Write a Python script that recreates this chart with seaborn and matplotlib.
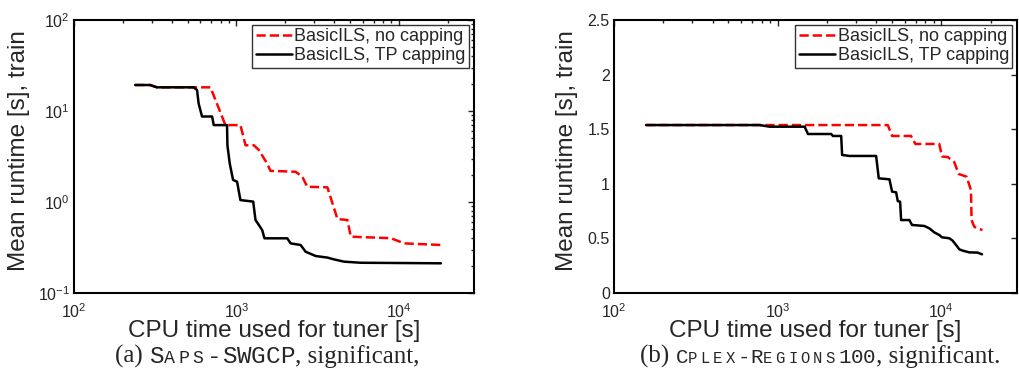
import matplotlib
matplotlib.use("Agg")
import matplotlib.pyplot as plt
import seaborn as sns
from matplotlib.ticker import LogLocator, NullFormatter, FixedLocator

# values (x = CPU time [s], y = mean runtime [s])
saps_tp_time = [238, 294, 324, 546, 572, 585, 614, 708, 725, 875, 880, 909, 953,
                1009, 1058, 1268, 1310, 1374, 1440, 1488, 2055, 2155, 2483, 2666,
                3073, 3630, 3990, 4595, 5820, 18150]
saps_tp_rt = [19.3, 19.3, 18.2, 18.2, 17.0, 12.1, 8.7, 8.7, 7.0, 7.0, 4.2, 2.66,
              1.75, 1.67, 1.05, 1.01, 0.634, 0.559, 0.492, 0.399, 0.399, 0.351,
              0.337, 0.284, 0.255, 0.245, 0.234, 0.221, 0.215, 0.212]

saps_nocap_time = [238, 294, 324, 546, 692, 855, 1058, 1138, 1280, 1375, 1549, 1620,
                   2314, 2541, 2729, 3630, 4187, 4820, 5060, 8930, 10800, 18150]
saps_nocap_rt = [19.3, 19.3, 18.2, 18.2, 18.2, 7.0, 7.0, 4.2, 4.2, 3.72, 2.62, 2.2,
                 2.15, 1.90, 1.47, 1.45, 0.65, 0.634, 0.416, 0.40, 0.351, 0.337]

cplex_tp_time = [157, 777, 893, 1462, 1532, 2125, 2174, 2444, 2477, 2747, 3996, 4147,
                 4820, 5003, 5295, 5418, 5600, 5680, 6380, 6620, 7870, 8450, 9060,
                 9720, 10090, 11190, 11730, 12300, 12880, 13500, 14830, 16670, 17710]
cplex_tp_rt = [1.538, 1.538, 1.523, 1.523, 1.456, 1.456, 1.438, 1.438, 1.264, 1.255,
               1.255, 1.050, 1.041, 0.928, 0.922, 0.842, 0.836, 0.668, 0.668, 0.623,
               0.614, 0.592, 0.555, 0.531, 0.510, 0.501, 0.479, 0.440, 0.400, 0.388,
               0.372, 0.370, 0.354]

cplex_nocap_time = [157, 4710, 5003, 6530, 6940, 9720, 10090, 10940, 12000, 12760,
                    14270, 15170, 15300, 15890, 16670, 17860]
cplex_nocap_rt = [1.538, 1.538, 1.438, 1.438, 1.365, 1.365, 1.25, 1.245, 1.199, 1.09,
                  1.065, 0.943, 0.668, 0.607, 0.590, 0.577]

labels = ["BasicILS, no capping", "BasicILS, TP capping"]
xlabel = "CPU time used for tuner [s]"
ylabel = "Mean runtime [s], train"

sns.set_style("white")
plt.rcParams['font.family'] = ['Liberation Sans', 'DejaVu Sans']
plt.rcParams['mathtext.default'] = 'regular'

W, H = 1019, 381
fig = plt.figure(figsize=(W / 100, H / 100), dpi=100)
ax1 = fig.add_axes([74 / W, 88 / H, 400 / W, 273 / H])
ax2 = fig.add_axes([614 / W, 88 / H, 403 / W, 273 / H])

for ax in (ax1, ax2):
    ax.set_xscale('log')

sns.lineplot(x=saps_nocap_time, y=saps_nocap_rt, ax=ax1, color='red', linestyle='--',
             lw=1.8, estimator=None, sort=False, label=labels[0])
sns.lineplot(x=saps_tp_time, y=saps_tp_rt, ax=ax1, color='black',
             lw=1.8, estimator=None, sort=False, label=labels[1])
sns.lineplot(x=cplex_nocap_time, y=cplex_nocap_rt, ax=ax2, color='red', linestyle='--',
             lw=1.8, estimator=None, sort=False, label=labels[0])
sns.lineplot(x=cplex_tp_time, y=cplex_tp_rt, ax=ax2, color='black',
             lw=1.8, estimator=None, sort=False, label=labels[1])

ax1.set_yscale('log')
ax1.set_ylim(0.1, 100)
ax2.set_ylim(0, 2.5)
ax2.yaxis.set_major_locator(FixedLocator([0, 0.5, 1, 1.5, 2, 2.5]))
ax2.set_yticklabels(['0', '0.5', '1', '1.5', '2', '2.5'])

for ax in (ax1, ax2):
    ax.set_xlim(100, 29000)
    ax.xaxis.set_major_locator(LogLocator(base=10, numticks=10))
    ax.xaxis.set_minor_locator(LogLocator(base=10, subs=range(2, 10), numticks=20))
    ax.xaxis.set_minor_formatter(NullFormatter())
    ax.tick_params(which='both', direction='in', top=True, right=True,
                   labelsize=11.5, width=1)
    ax.tick_params(axis='x', which='both', pad=6.5)
    ax.tick_params(axis='y', which='both', pad=3)
    ax.tick_params(which='major', length=4)
    ax.tick_params(which='minor', length=2)
    for s in ax.spines.values():
        s.set_linewidth(1.5)
        s.set_color('black')
    ax.set_xlabel(xlabel, fontsize=17.5)
    ax.xaxis.set_label_coords(0.5, -0.1)
    ax.set_ylabel(ylabel, fontsize=17.5)
    leg = ax.legend(loc='upper right', fontsize=13, frameon=True, fancybox=False,
                    borderpad=0.2, labelspacing=0.1, handlelength=2.0,
                    handletextpad=0.15, borderaxespad=0.25)
    leg.get_frame().set_edgecolor('black')
    leg.get_frame().set_linewidth(1.0)

ax1.yaxis.set_minor_locator(LogLocator(base=10, subs=range(2, 10), numticks=20))
ax1.yaxis.set_minor_formatter(NullFormatter())
ax1.yaxis.set_label_coords(-0.11, 0.52)
ax2.yaxis.set_label_coords(-0.089, 0.52)

# captions below the panels: serif text + small-caps typewriter part
renderer = fig.canvas.get_renderer()
serif, mono = 'Liberation Serif', 'Liberation Mono'


def caption(x0, head, tt, tail, mono_size, y=357, serif_size=18):
    base = 1 - (y + 6) / H
    t = fig.text(x0 / W, base, head, family=serif, fontsize=serif_size,
                 va='baseline', ha='left')
    x = x0 + t.get_window_extent(renderer).width
    adv = mono_size * 100 / 72 * 0.6   # fixed advance of the mono font
    for ch, small in tt:
        size = mono_size * 0.75 if small else mono_size
        fig.text(x / W, base, ch, family=mono, fontsize=size,
                 va='baseline', ha='left')
        x += adv
    fig.text(x / W, base, tail, family=serif, fontsize=serif_size,
             va='baseline', ha='left')


def smallcaps(word):
    # first letter of each hyphen-separated part big, rest small; digits big
    out = []
    first = True
    for ch in word:
        if ch == '-':
            out.append((ch, False))
            first = True
        elif ch.isdigit():
            out.append((ch, False))
        else:
            out.append((ch, not first))
            first = False
    return out


caption(115, "(a) ", smallcaps("SAPS-") + [(c, False) for c in "SWGCP"],
        ", significant,", 17.5)
caption(640, "(b) ", smallcaps("CPLEX-REGIONS100"), ", significant.", 15)

fig.savefig("out.png", dpi=100)
